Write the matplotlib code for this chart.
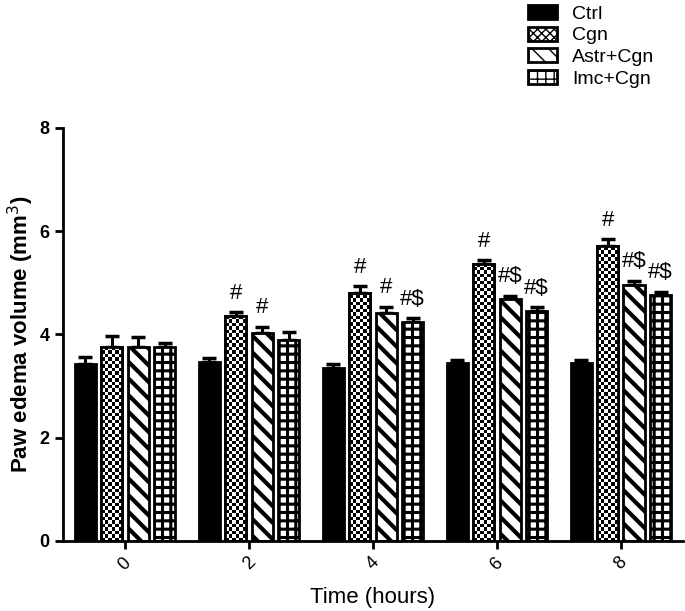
import numpy as np
import matplotlib
matplotlib.use("Agg")
import matplotlib.pyplot as plt
from matplotlib.patches import Patch

plt.rcParams['font.family'] = ['Liberation Sans', 'DejaVu Sans']

# Data
hours = ["0", "2", "4", "6", "8"]
groups = ["Ctrl", "Cgn", "Astr+Cgn", "Imc+Cgn"]
ctrl = [3.43, 3.46, 3.36, 3.44, 3.44]
cgn = [3.75, 4.35, 4.81, 5.37, 5.71]
astr = [3.75, 4.02, 4.41, 4.69, 4.96]
imc = [3.76, 3.90, 4.25, 4.46, 4.76]
ctrl_err = [0.13, 0.08, 0.07, 0.07, 0.07]
cgn_err = [0.22, 0.08, 0.13, 0.07, 0.13]
astr_err = [0.21, 0.13, 0.13, 0.06, 0.08]
imc_err = [0.07, 0.14, 0.07, 0.07, 0.07]
cgn_sig = ["", "#", "#", "#", "#"]
astr_sig = ["", "#", "#", "#$", "#$"]
imc_sig = ["", "", "#$", "#$", "#$"]

means = [ctrl, cgn, astr, imc]
errs = [ctrl_err, cgn_err, astr_err, imc_err]
sigs = [None, cgn_sig, astr_sig, imc_sig]

fig = plt.figure(figsize=(6.85, 6.11), dpi=100)
ax = fig.add_axes([0.092, 0.1146, 0.905, 0.676])

x = np.arange(len(hours))
step = 0.213
width = 0.172
offsets = [-1.5 * step, -0.5 * step, 0.5 * step, 1.5 * step]
hatches = [None, None, '\\\\', '++']
hlw = [1, 1, 3.0, 2.2]
faces = ['black', 'white', 'white', 'white']

for k in range(4):
    with plt.rc_context({'hatch.linewidth': hlw[k]}):
        bars = ax.bar(x + offsets[k], means[k], width, color=faces[k],
                      edgecolor='black', linewidth=2, hatch=hatches[k],
                      zorder=2)
    if k == 1:
        # checkerboard fill for Cgn bars
        cw, ch = 0.028, 0.067
        for b in bars:
            x0 = b.get_x()
            h = b.get_height()
            ncol = int(np.ceil(width / cw))
            nrow = int(np.ceil(h / ch))
            ii, jj = np.indices((nrow, ncol))
            arr = (ii + jj) % 2
            im = ax.imshow(arr, cmap='gray', interpolation='nearest',
                           aspect='auto', origin='lower', zorder=2.5,
                           extent=[x0, x0 + ncol * cw, 0, nrow * ch])
            im.set_clip_path(b)
        ax.bar(x + offsets[k], means[k], width, color='none',
               edgecolor='black', linewidth=2, zorder=3)
    ax.errorbar(x + offsets[k], means[k], yerr=[np.zeros(5), errs[k]],
                fmt='none', ecolor='black', elinewidth=2.2, capsize=5,
                capthick=2.5, zorder=1.5)
    if sigs[k] is not None:
        for i in range(5):
            if sigs[k][i]:
                ax.annotate(sigs[k][i], (x[i] + offsets[k], means[k][i] + errs[k][i]),
                            xytext=(0, 6), textcoords='offset points',
                            ha='center', va='bottom', fontsize=16)

ax.set_xlim(-0.5, 4.5)
ax.set_ylim(0, 8)
ax.set_yticks([0, 2, 4, 6, 8])
ax.set_xticks(x)
ax.set_xticklabels(hours, rotation=45, fontsize=13)
for lab in ax.get_yticklabels():
    lab.set_fontweight('bold')
    lab.set_fontsize(13)
ax.tick_params(width=2, length=6)
ax.spines['top'].set_visible(False)
ax.spines['right'].set_visible(False)
ax.spines['left'].set_linewidth(2)
ax.spines['bottom'].set_linewidth(2)
ax.set_xlabel("Time (hours)", fontsize=16, labelpad=10)
ax.set_ylabel("Paw edema volume (mm$^3$)", fontsize=16, fontweight='bold',
              labelpad=3)

handles = []
for k in range(4):
    with plt.rc_context({'hatch.linewidth': 2}):
        handles.append(Patch(facecolor=faces[k], edgecolor='black', linewidth=2,
                             hatch=['', 'xxxx', '\\\\', '++'][k], label=groups[k]))
fig.legend(handles=handles, loc='upper left', bbox_to_anchor=(0.751, 1.014),
           frameon=False, fontsize=14, handlelength=1.5, handleheight=0.72,
           handletextpad=0.75, labelspacing=0.2, borderpad=0.2)

plt.savefig("out.png", dpi=100)
print("Saved: out.png")
